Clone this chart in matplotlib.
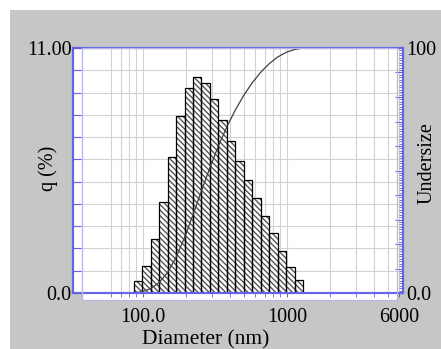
import matplotlib
matplotlib.use('Agg')
import matplotlib.pyplot as plt
import numpy as np
from matplotlib.patches import Rectangle
from matplotlib.ticker import FixedLocator

# size classes (nm) and frequency q (%)
edges = [86.1, 98.6, 112.9, 129.2, 148.0, 169.5, 194.1, 222.2, 254.5, 291.4,
         333.7, 382.1, 437.5, 501.0, 573.7, 656.8, 752.1, 861.2, 986.1, 1129.2, 1293.0]
q = [0.55, 1.22, 2.42, 4.10, 6.10, 7.94, 9.21, 9.69, 9.43, 8.72,
     7.76, 6.82, 5.93, 5.07, 4.25, 3.46, 2.69, 1.90, 1.15, 0.60]
x_ticks = [100, 1000, 6000]
x_ticklabels = ['100.0', '1000', '6000']
x_grid = [60, 70, 80, 90, 200, 300, 400, 500, 600, 700, 800, 900, 2000, 3000, 4000, 5000]

plt.rcParams['font.family'] = ['Liberation Serif', 'DejaVu Serif']
W, H = 441, 349
blue = '#6464e6'
fs = 14.5

fig = plt.figure(figsize=(W / 100, H / 100), dpi=100, facecolor='white')

# gray window area (white strip left at top and left edge)
fig.add_artist(Rectangle((10 / W, 0), 1, 1 - 10 / H, transform=fig.transFigure,
                         facecolor='#c6c6c6', edgecolor='none', zorder=-2))
# inner white panel (slightly offset from the blue frame)
panel = (82 / W, 1 - 300 / H)
pw, ph = 315 / W, 252 / H
fig.add_artist(Rectangle(panel, pw, ph, transform=fig.transFigure,
                         facecolor='white', edgecolor='none', zorder=-1))
fig.add_artist(Rectangle(panel, pw, ph, transform=fig.transFigure,
                         fill=False, edgecolor='#b4b4e6', lw=0.9, zorder=3))

ax = fig.add_axes([73 / W, 1 - 293 / H, 330 / W, 245 / H])
ax.set_facecolor('white')
ax.set_xscale('log')
ax.set_xlim(32.6, 6400)
ax.set_ylim(0, 11)

widths = np.diff(edges)
ax.bar(edges[:-1], q, width=widths, align='edge', facecolor='white',
       edgecolor='#555555', hatch='\\\\\\\\\\\\', lw=0, zorder=2)
ax.bar(edges[:-1], q, width=widths, align='edge', fill=False,
       edgecolor='black', lw=0.9, zorder=2.1)

ax.xaxis.set_major_locator(FixedLocator(x_ticks))
ax.set_xticklabels(x_ticklabels)
ax.xaxis.set_minor_locator(FixedLocator(x_grid))
ax.xaxis.set_minor_formatter(plt.NullFormatter())
ax.set_yticks(range(12))
ax.set_yticklabels(['0.0'] + [''] * 10 + ['11.00'])
ax.grid(which='both', color='#d2d2d2', lw=0.8, zorder=0)
ax.set_axisbelow(True)

ax.tick_params(axis='y', direction='in', length=6, color=blue, pad=1, labelsize=fs)
ax.tick_params(axis='x', which='both', direction='out', length=3, color=blue,
               pad=8, labelsize=fs)

ax2 = ax.twinx()
ax2.set_ylim(0, 100)
ax2.set_yticks(range(0, 101, 10))
ax2.set_yticklabels(['0.0'] + [''] * 9 + ['100'])
ax2.yaxis.set_minor_locator(FixedLocator(range(0, 101, 1)))
ax2.tick_params(axis='y', direction='in', length=6, color=blue, pad=2, labelsize=fs)
ax2.tick_params(axis='y', which='minor', direction='in', length=3, color=blue)

cum = np.concatenate([[0], np.cumsum(q)])
cum = cum / cum[-1] * 100
ax2.plot(edges, cum, color='#404040', lw=0.9)

for a in (ax, ax2):
    for s in a.spines.values():
        s.set_color(blue)
        s.set_linewidth(1.5)

fig.text(48 / W, 1 - 168 / H, 'q (%)', rotation=90, ha='center', va='center', fontsize=fs)
fig.text(427 / W, 1 - 163 / H, 'Undersize', rotation=90, ha='center', va='center', fontsize=fs)
fig.text(206 / W, 1 - 340 / H, 'Diameter (nm)', ha='center', va='center', fontsize=fs + 1)

fig.savefig('out.png', dpi=100, facecolor=fig.get_facecolor())
